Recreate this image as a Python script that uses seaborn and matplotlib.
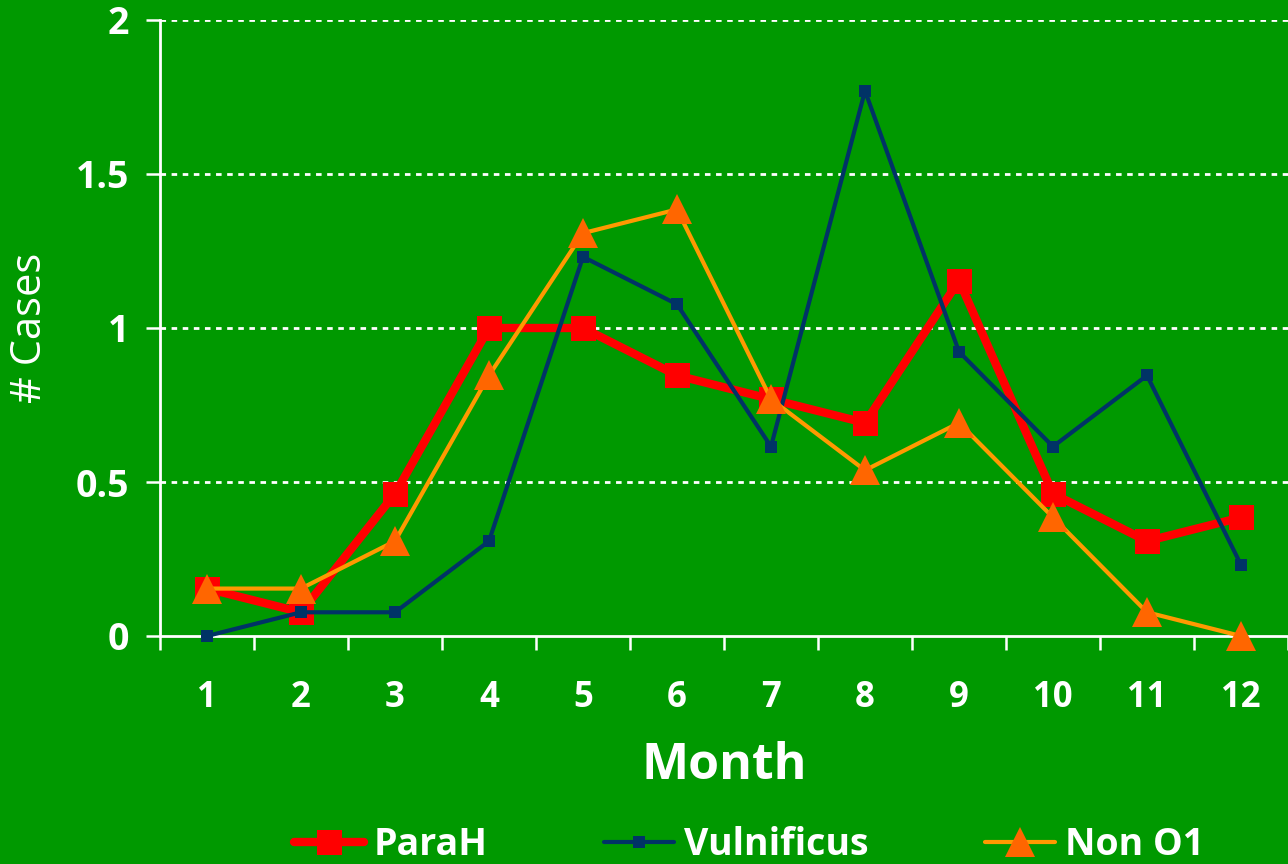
import pandas as pd
import matplotlib
matplotlib.use("Agg")
import matplotlib.pyplot as plt
import seaborn as sns

# values (average # cases per month)
months = [1, 2, 3, 4, 5, 6, 7, 8, 9, 10, 11, 12]
para_h = [0.154, 0.077, 0.462, 1.0, 1.0, 0.846, 0.769, 0.692, 1.154, 0.462, 0.308, 0.385]
vulnificus = [0.0, 0.077, 0.077, 0.308, 1.231, 1.077, 0.615, 1.77, 0.923, 0.615, 0.846, 0.231]
non_o1 = [0.154, 0.154, 0.308, 0.846, 1.308, 1.385, 0.769, 0.538, 0.692, 0.385, 0.077, 0.0]
y_ticks = [0, 0.5, 1, 1.5, 2]
y_tick_labels = ["0", "0.5", "1", "1.5", "2"]

BG = "#009900"
FONT = ["Open Sans", "DejaVu Sans"]

sns.set_style("white")
plt.rcParams["font.family"] = FONT

fig = plt.figure(figsize=(12.88, 8.64), dpi=100, facecolor=BG)
ax = fig.add_axes([160 / 1288, 1 - 636 / 864, 1128 / 1288, 616 / 864])
ax.set_facecolor(BG)

series = [
    ("ParaH", para_h, dict(color="#FF0000", linewidth=6, marker="s", markersize=18,
                           markerfacecolor="#FF0000", markeredgecolor="#FF0000")),
    ("Vulnificus", vulnificus, dict(color="#003366", linewidth=3, marker="s", markersize=9,
                                    markerfacecolor="#003366", markeredgecolor="#003366")),
    ("Non O1", non_o1, dict(color="#FF9900", linewidth=3, marker="^", markersize=21,
                            markerfacecolor="#FF6600", markeredgecolor="#FF6600")),
]

for name, vals, style in series:
    df = pd.DataFrame({"Month": months, "Cases": vals})
    sns.lineplot(data=df, x="Month", y="Cases", ax=ax, label=name,
                 markeredgewidth=0, zorder=3, clip_on=False, **style)

# axes limits and ticks
ax.set_xlim(0.5, 12.5)
ax.set_ylim(0, 2)
ax.set_xticks([m - 0.5 for m in months] + [12.5])
ax.set_xticks(months, minor=True)
ax.set_xticklabels([str(m) for m in months], minor=True)
ax.tick_params(axis="x", which="major", bottom=True, length=10, width=1.8,
               color="white", direction="out", labelbottom=False)
ax.tick_params(axis="x", which="minor", bottom=True, length=0, pad=32,
               labelsize=25, labelcolor="white")
ax.set_yticks(y_ticks)
ax.set_yticklabels(y_tick_labels)
ax.tick_params(axis="y", left=True, length=10, width=1.8, color="white",
               direction="out", pad=12, labelsize=27, labelcolor="white")
for lab in ax.get_xticklabels(minor=True) + ax.get_yticklabels():
    lab.set_fontweight("bold")

# dotted white gridlines
for y in y_ticks[1:]:
    ax.axhline(y, color="white", linestyle=(0, (2, 2)), linewidth=2, zorder=1)

for side in ["left", "bottom"]:
    ax.spines[side].set_color("white")
    ax.spines[side].set_linewidth(2)
ax.spines["top"].set_visible(False)
ax.spines["right"].set_visible(False)

ax.set_xlabel("Month", fontsize=36, fontweight="bold", color="white")
ax.xaxis.set_label_coords(0.5, -0.17)
ax.set_ylabel("# Cases", fontsize=30, color="white")
ax.yaxis.set_label_coords(-0.097, 0.5)

handles, labels = ax.get_legend_handles_labels()
ax.get_legend().remove()
fig.legend(handles, labels, loc="center", bbox_to_anchor=(749 / 1288, 0.022),
           ncol=3, frameon=False, handlelength=1.87,
           handletextpad=0.27, columnspacing=3.1,
           prop={"weight": "bold", "size": 27})
for t in fig.legends[0].get_texts():
    t.set_color("white")

fig.savefig("out.png", dpi=100, facecolor=BG)
